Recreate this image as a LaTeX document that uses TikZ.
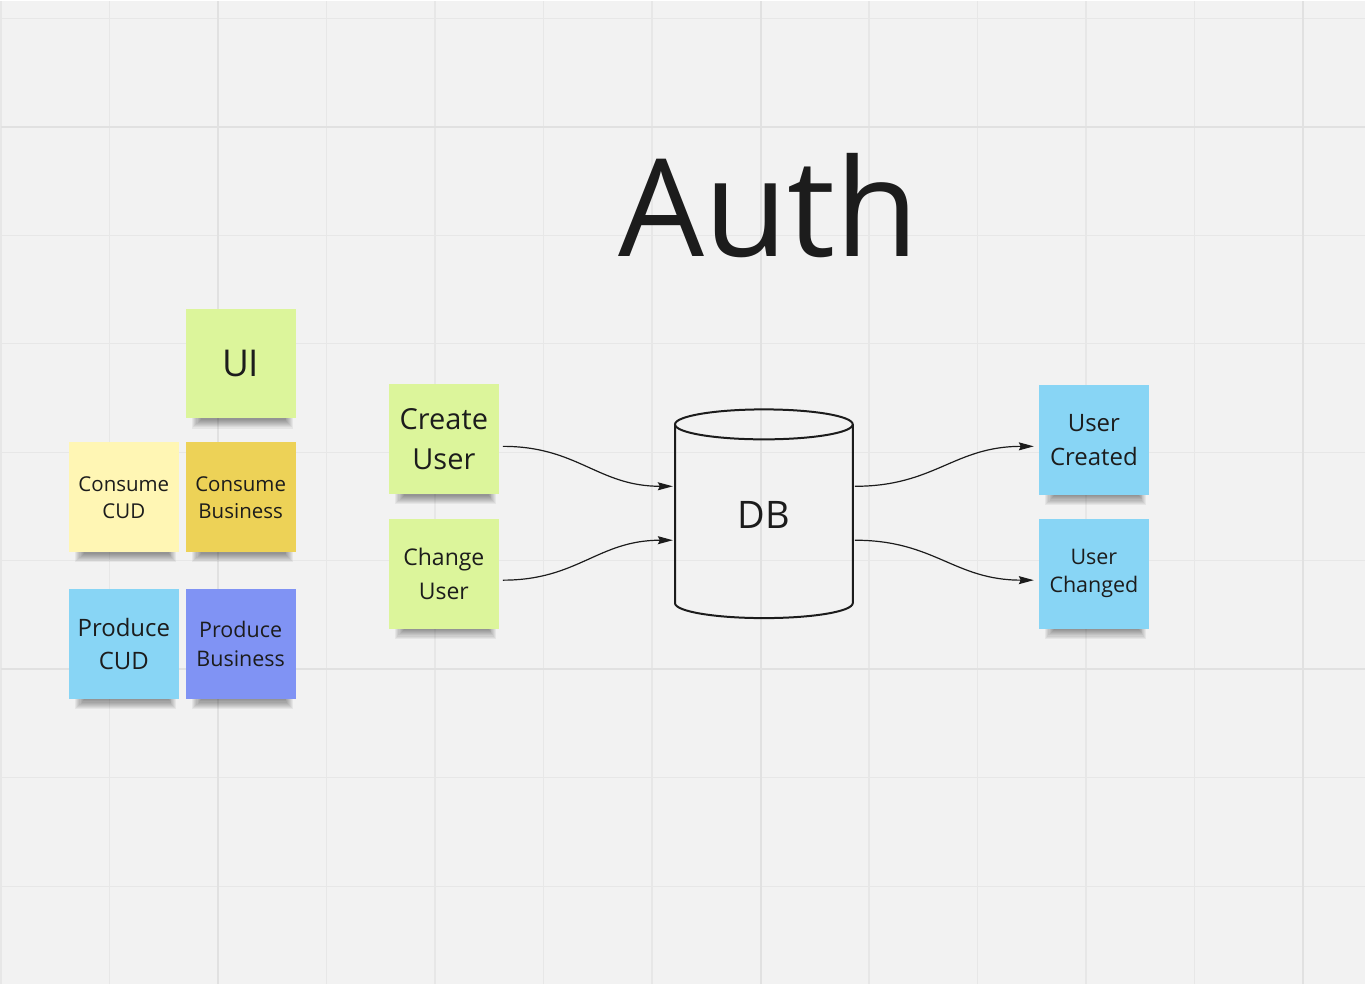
\documentclass[tikz,border=0pt]{standalone}
\usepackage{fontspec}
\setmainfont{Open Sans}
\usetikzlibrary{arrows.meta}
\definecolor{bgc}{HTML}{F2F2F2}
\definecolor{gridc}{HTML}{E7E7E7}
\definecolor{gridt}{HTML}{E1E1E1}
\definecolor{txt}{HTML}{1C1C1C}
\definecolor{lime}{HTML}{DCF59B}
\definecolor{paleyel}{HTML}{FFF6B4}
\definecolor{gold}{HTML}{EDD257}
\definecolor{skyb}{HTML}{88D5F5}
\definecolor{peri}{HTML}{8093F4}
\pgfdeclarelayer{bglayer}
\pgfdeclarelayer{shlayer}
\pgfsetlayers{bglayer,shlayer,main}
\tikzset{
  note/.style={minimum width=110pt, minimum height=110pt, inner sep=0pt, align=center, text=txt},
  conn/.style={line width=1.2pt, draw=txt, -{Stealth[length=15pt,width=8pt,inset=2pt]}},
  dbline/.style={line width=2pt, draw=txt},
}
\newcommand{\noteshadow}[1]{%
  \begin{pgfonlayer}{shlayer}
  \foreach \i in {0,...,8}{
    \fill[black, opacity=0.05] ([xshift=6pt+1.2*\i pt, yshift=4pt]#1.south west) rectangle ([xshift=-3pt-0.9*\i pt, yshift=-10pt+1.1*\i pt]#1.south east);
  }
  \end{pgfonlayer}}
\begin{document}
\begin{tikzpicture}[x=1pt,y=-1pt]
\begin{pgfonlayer}{bglayer}
\fill[bgc] (0,0) rectangle (1366,984);
\foreach \k in {0,...,12}{
  \draw[gridc, line width=1.2pt] ({108.667*\k},0) -- ({108.667*\k},984);
}
\foreach \k in {0,...,8}{
  \draw[gridc, line width=1.2pt] (0,{17.33+108.667*\k}) -- (1366,{17.33+108.667*\k});
}
\foreach \k in {2,7,12}{
  \draw[gridt, line width=2pt] ({108.667*\k},0) -- ({108.667*\k},984);
}
\foreach \k in {1,6}{
  \draw[gridt, line width=2pt] (0,{17.33+108.667*\k}) -- (1366,{17.33+108.667*\k});
}
\end{pgfonlayer}
\useasboundingbox (0,0) rectangle (1366,984);

% title
\node[text=txt, font={\fontsize{136}{150}\selectfont}] (title) at (769,205) {Auth};

% left legend notes
\node[note, fill=lime, font={\fontsize{37}{44}\selectfont}] (ui) at (240,363) {UI};
\node[note, fill=paleyel, font={\fontsize{20.5}{27}\selectfont}] (ccud) at (123,497) {Consume\\CUD};
\node[note, fill=gold, font={\fontsize{20.5}{27}\selectfont}] (cbus) at (240,497) {Consume\\Business};
\node[note, fill=skyb, font={\fontsize{24}{33}\selectfont}] (pcud) at (123,644) {Produce\\CUD};
\node[note, fill=peri, font={\fontsize{21.5}{29}\selectfont}] (pbus) at (240,644) {Produce\\Business};

% commands
\node[note, fill=lime, font={\fontsize{29}{40}\selectfont}] (create) at (443.5,439) {Create\\User};
\node[note, fill=lime, font={\fontsize{23}{34}\selectfont}] (change) at (443.5,573.5) {Change\\User};

% events
\node[note, fill=skyb, font={\fontsize{24}{34}\selectfont}] (created) at (1094.5,439.5) {User\\Created};
\node[note, fill=skyb, font={\fontsize{21.5}{28}\selectfont}] (changed) at (1094.5,573.5) {User\\Changed};

\noteshadow{ui}
\noteshadow{ccud}
\noteshadow{cbus}
\noteshadow{pcud}
\noteshadow{pbus}
\noteshadow{create}
\noteshadow{change}
\noteshadow{created}
\noteshadow{changed}

% database cylinder
\node[minimum width=178pt, minimum height=210pt, inner sep=0pt] (db) at (764,513) {};
\draw[dbline] (764,424) ellipse [x radius=89pt, y radius=15pt];
\draw[dbline] (675,424) -- (675,603) arc[start angle=180, end angle=360, x radius=89pt, y radius=15pt] -- (853,424);
\node[text=txt, font={\fontsize{38}{44}\selectfont}] (dbl) at (764,515) {DB};

% connectors
\draw[conn] ([xshift=4pt, yshift=-7pt]create.east) .. controls +(75,0) and +(-75,0) .. ([xshift=-2pt, yshift=27pt]db.west);
\draw[conn] ([xshift=4pt, yshift=-6.5pt]change.east) .. controls +(75,0) and +(-75,0) .. ([xshift=-2pt, yshift=-27pt]db.west);
\draw[conn] ([xshift=2pt, yshift=27pt]db.east) .. controls +(80,0) and +(-80,0) .. ([xshift=-5pt, yshift=-6.5pt]created.west);
\draw[conn] ([xshift=2pt, yshift=-27pt]db.east) .. controls +(80,0) and +(-80,0) .. ([xshift=-5pt, yshift=-6.5pt]changed.west);
\end{tikzpicture}
\end{document}
